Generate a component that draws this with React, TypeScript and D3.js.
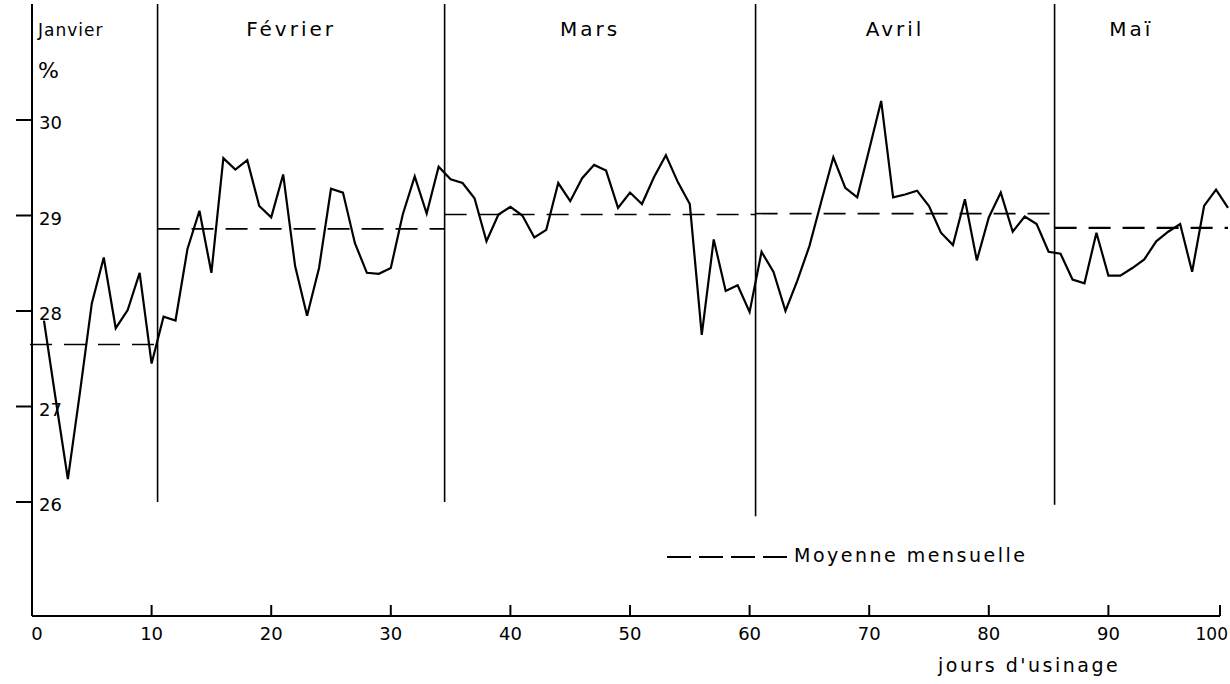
import React, { useEffect, useRef } from "react";
import * as d3 from "d3";

// Teneur journalière (%), jours 1 à 100
const teneurs = [
    27.9, 27.06, 26.24, 27.14, 28.08, 28.56, 27.82, 28.01, 28.4, 27.45,
    27.94, 27.9, 28.65, 29.05, 28.4, 29.6, 29.48, 29.58, 29.1, 28.98,
    29.43, 28.47, 27.95, 28.45, 29.28, 29.24, 28.71, 28.4, 28.39, 28.45,
    29.01, 29.41, 29.02, 29.51, 29.38, 29.34, 29.18, 28.73, 29.01, 29.09,
    29.0, 28.77, 28.85, 29.34, 29.15, 29.39, 29.53, 29.47, 29.08, 29.24,
    29.12, 29.4, 29.63, 29.35, 29.12, 27.75, 28.75, 28.21, 28.27, 27.99,
    28.62, 28.41, 28.0, 28.32, 28.68, 29.15, 29.61, 29.29, 29.19, 29.69,
    30.2, 29.19, 29.22, 29.26, 29.1, 28.82, 28.69, 29.17, 28.53, 28.98,
    29.24, 28.83, 28.99, 28.91, 28.62, 28.6, 28.33, 28.29, 28.82, 28.37,
    28.37, 28.45, 28.54, 28.73, 28.83, 28.91, 28.41, 29.1, 29.27, 29.08,
];

const mois       = ["Janvier", "Février", "Mars", "Avril", "Maï"];
const moisDebut  = [0, 10.5, 34.5, 60.5, 85.5];
const moisFin    = [10.5, 34.5, 60.5, 85.5, 100];
const moyennes   = [27.65, 28.86, 29.01, 29.02, 28.87];
// bas des traits verticaux séparant les mois (en %)
const separateurBas = [26.0, 26.0, 25.85, 25.97];

const yTicks = [26, 27, 28, 29, 30];
const xTicks = [0, 10, 20, 30, 40, 50, 60, 70, 80, 90, 100];

const W = 1230;
const H = 684;
const FONT = "DejaVu Sans, sans-serif";

const App = () => {
    const svgRef = useRef<SVGSVGElement>(null);

    useEffect(() => {
        if (!svgRef.current) return;
        const svg = d3.select(svgRef.current);
        svg.selectAll("*").remove();

        const x = d3.scaleLinear().domain([0, 100]).range([32, 1228]);
        const y = d3.scaleLinear().domain([26, 30]).range([502, 120]);
        const axeY = 616;
        const haut = 4;
        const finAxe = 1220; // l'axe tracé à la main s'arrête un peu avant la courbe

        const g = svg.append("g");

        // ── Axes ──────────────────────────────────────────────────────────
        g.append("line")
            .attr("x1", x(0)).attr("x2", x(0))
            .attr("y1", haut).attr("y2", axeY)
            .attr("stroke", "#000").attr("stroke-width", 2);

        g.append("line")
            .attr("x1", x(0)).attr("x2", finAxe)
            .attr("y1", axeY).attr("y2", axeY)
            .attr("stroke", "#000").attr("stroke-width", 2);

        yTicks.forEach(t => {
            g.append("line")
                .attr("x1", x(0) - 16).attr("x2", x(0))
                .attr("y1", y(t)).attr("y2", y(t))
                .attr("stroke", "#000").attr("stroke-width", 2);
            g.append("text")
                .attr("x", x(0) + 7)
                .attr("y", y(t) + 3)
                .attr("dy", "0.35em")
                .attr("font-size", "18px")
                .attr("font-family", FONT)
                .text(t);
        });

        g.append("text")
            .attr("x", x(0) + 6).attr("y", 78)
            .attr("font-size", "22px")
            .attr("font-family", FONT)
            .text("%");

        xTicks.forEach(t => {
            const last = t === 100;
            const xt = last ? finAxe : x(t);
            if (t > 0) {
                g.append("line")
                    .attr("x1", xt).attr("x2", xt)
                    .attr("y1", axeY - 11).attr("y2", axeY)
                    .attr("stroke", "#000").attr("stroke-width", 2);
            }
            g.append("text")
                .attr("x", t === 0 ? x(t) + 5 : last ? 1228 : xt)
                .attr("y", axeY + 24)
                .attr("text-anchor", last ? "end" : "middle")
                .attr("font-size", last ? "17px" : "18px")
                .attr("font-family", FONT)
                .text(t);
        });

        g.append("text")
            .attr("x", 938).attr("y", 672)
            .attr("font-size", "19px")
            .attr("font-family", FONT)
            .attr("letter-spacing", "2.5px")
            .text("jours d'usinage");

        // ── Séparateurs et noms de mois ───────────────────────────────────
        moisDebut.slice(1).forEach((d, i) => {
            g.append("line")
                .attr("x1", x(d)).attr("x2", x(d))
                .attr("y1", haut).attr("y2", y(separateurBas[i]))
                .attr("stroke", "#000").attr("stroke-width", 1.6);
        });

        mois.forEach((m, i) => {
            const premier = i === 0;
            g.append("text")
                .attr("x", premier ? x(0) + 6 : (x(moisDebut[i]) + x(moisFin[i])) / 2 - 10)
                .attr("y", 36)
                .attr("text-anchor", premier ? "start" : "middle")
                .attr("font-size", premier ? "17px" : "20px")
                .attr("letter-spacing", premier ? "1px" : "3px")
                .attr("font-family", FONT)
                .text(m);
        });

        // ── Moyennes mensuelles ───────────────────────────────────────────
        moyennes.forEach((v, i) => {
            g.append("line")
                .attr("x1", x(moisDebut[i]) - (i === 0 ? 2 : 0))
                .attr("x2", x(moisFin[i]))
                .attr("y1", y(v)).attr("y2", y(v))
                .attr("stroke", "#000")
                .attr("stroke-width", i === 4 ? 2.2 : 1.6)
                .attr("stroke-dasharray", "22,12");
        });

        // ── Courbe journalière ────────────────────────────────────────────
        const ligne = d3.line<number>()
            .x((_, i) => x(i + 1))
            .y(v => y(v));

        g.append("path")
            .datum(teneurs)
            .attr("d", ligne)
            .attr("fill", "none")
            .attr("stroke", "#000")
            .attr("stroke-width", 2.2)
            .attr("stroke-linejoin", "miter");

        // ── Légende ───────────────────────────────────────────────────────
        g.append("line")
            .attr("x1", 667).attr("x2", 787)
            .attr("y1", 557).attr("y2", 557)
            .attr("stroke", "#000").attr("stroke-width", 2)
            .attr("stroke-dasharray", "24,8");
        g.append("text")
            .attr("x", 794).attr("y", 562)
            .attr("font-size", "19px")
            .attr("letter-spacing", "2.5px")
            .attr("font-family", FONT)
            .text("Moyenne mensuelle");
    }, []);

    return (
        <svg
            ref={svgRef}
            width={W}
            height={H}
            style={{ position: "absolute", left: 0, top: 0, background: "#fff" }}
        />
    );
};

export default App;
